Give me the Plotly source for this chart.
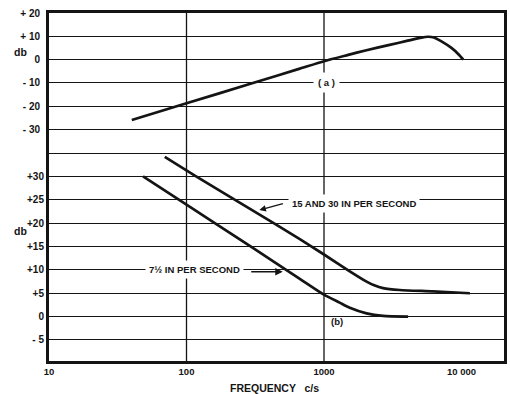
import plotly.graph_objects as go
import math

# ---- data ----
freq_a = [40, 100, 300, 667, 1000, 1500, 2000, 3000, 4000, 5000, 5700, 6300, 7150, 8450, 9500, 10300]
db_a = [-26.0, -18.8, -10.2, -3.9, -0.7, 2.0, 3.9, 6.3, 8.0, 9.3, 9.8, 9.5, 7.8, 5.0, 2.3, 0.0]

freq_b_fast = [69.5, 115, 300, 667, 1000, 1540, 2040, 2320, 2690, 3560, 6180, 11500]
db_b_fast = [34.2, 30.2, 22.8, 16.6, 13.3, 9.7, 7.5, 6.7, 6.1, 5.7, 5.4, 5.0]

freq_b_slow = [48.3, 100, 300, 667, 1000, 1300, 1540, 2040, 2690, 4090]
db_b_slow = [30.0, 24.0, 14.8, 8.1, 4.7, 3.0, 1.9, 0.7, 0.15, 0.0]

x_tickvals = [10, 100, 1000, 10000]
x_ticktext = ["10", "100", "1000", "10 000"]
x_gridvals = [100, 1000]

top_tickvals = [20, 10, 0, -10, -20, -30]
top_ticktext = ["+ 20", "+ 10", "0", "- 10", "- 20", "- 30"]
bot_tickvals = [35, 30, 25, 20, 15, 10, 5, 0, -5]
bot_ticktext = ["", "+30", "+25", "+20", "+15", "+10", "+5", "0", "- 5"]

INK = "#141414"
FAM = "Liberation Sans"

def bf(size):
    return dict(family=FAM, size=size, color=INK, weight="bold")

fig = go.Figure()
fig.add_trace(go.Scatter(x=freq_a, y=db_a, mode="lines", xaxis="x", yaxis="y",
                         line=dict(color=INK, width=2.7, shape="spline", smoothing=0.6),
                         showlegend=False, hoverinfo="skip"))
fig.add_trace(go.Scatter(x=freq_b_fast, y=db_b_fast, mode="lines", xaxis="x", yaxis="y2",
                         line=dict(color=INK, width=2.7, shape="spline", smoothing=0.6),
                         showlegend=False, hoverinfo="skip"))
fig.add_trace(go.Scatter(x=freq_b_slow, y=db_b_slow, mode="lines", xaxis="x", yaxis="y2",
                         line=dict(color=INK, width=2.7, shape="spline", smoothing=0.6),
                         showlegend=False, hoverinfo="skip"))

xr = [1, 1 + 455 / 137.5]

fig.update_layout(
    width=510, height=394,
    margin=dict(l=49, r=6, t=13, b=33),
    paper_bgcolor="white", plot_bgcolor="white",
    font=bf(9.5),
    xaxis=dict(type="log", range=xr, tickvals=x_tickvals, ticktext=x_ticktext,
               showgrid=False, zeroline=False, showline=True, linecolor=INK,
               linewidth=2.5, mirror=True, ticks="", ticklabelstandoff=0,
               tickfont=bf(9.5), automargin=False),
    yaxis=dict(range=[-129.5, 20], tickvals=top_tickvals, ticktext=top_ticktext,
               showgrid=True, gridcolor=INK, gridwidth=1.1, zeroline=False,
               showline=True, linecolor=INK, linewidth=2.8, mirror=True, ticks="",
               ticklabelstandoff=4, tickfont=bf(10), automargin=False),
    yaxis2=dict(range=[-9.5, 65], overlaying="y", side="left", tickvals=bot_tickvals,
                ticktext=bot_ticktext, showgrid=True, gridcolor=INK, gridwidth=1.1,
                zeroline=False, showline=False, ticks="", ticklabelstandoff=4,
                tickfont=bf(10), automargin=False),
)

# vertical grid lines at the 100 and 1000 c/s decades
for v in x_gridvals:
    fig.add_shape(type="line", xref="x", yref="paper", x0=v, x1=v, y0=0, y1=1,
                  line=dict(color=INK, width=1.3), layer="below")

ann_font = bf(9.5)
annotations = [
    dict(text="FREQUENCY &nbsp; c/s", xref="paper", yref="paper", x=(274.5 - 49) / 455,
         y=(361 - 387.5) / 348, yanchor="middle", showarrow=False, font=bf(10.5)),
    dict(text="db", xref="paper", yref="paper", x=-0.082, y=(361 - 52.3) / 348,
         yanchor="middle", showarrow=False, font=bf(10.5)),
    dict(text="db", xref="paper", yref="paper", x=-0.082, y=(361 - 231) / 348,
         yanchor="middle", showarrow=False, font=bf(10.5)),
    dict(text="( a )", xref="x", yref="y", x=math.log10(1050), y=-10, showarrow=False,
         font=ann_font, bgcolor="white", borderpad=4),
    dict(text="15 AND 30 IN PER SECOND", xref="x", yref="y2", x=math.log10(1650), y=24.3,
         showarrow=False, font=ann_font, bgcolor="white", borderpad=3),
    dict(text="", xref="x", yref="y2", x=2.53, y=22.8, ax=25, ay=-7, showarrow=True,
         arrowhead=2, arrowsize=1, arrowwidth=1.3, arrowcolor=INK, axref="pixel", ayref="pixel"),
    dict(text="7½ IN PER SECOND", xref="x", yref="y2", x=2.06, y=10, showarrow=False,
         font=ann_font, bgcolor="white", borderpad=3),
    dict(text="", xref="x", yref="y2", x=2.70, y=9.6, ax=-33, ay=0, showarrow=True,
         arrowhead=2, arrowsize=1, arrowwidth=1.5, arrowcolor=INK, axref="pixel", ayref="pixel"),
    dict(text="(b)", xref="x", yref="y2", x=math.log10(1240), y=-1.1, showarrow=False,
         font=ann_font),
]
fig.update_layout(annotations=annotations)

fig.write_html("out.html")
